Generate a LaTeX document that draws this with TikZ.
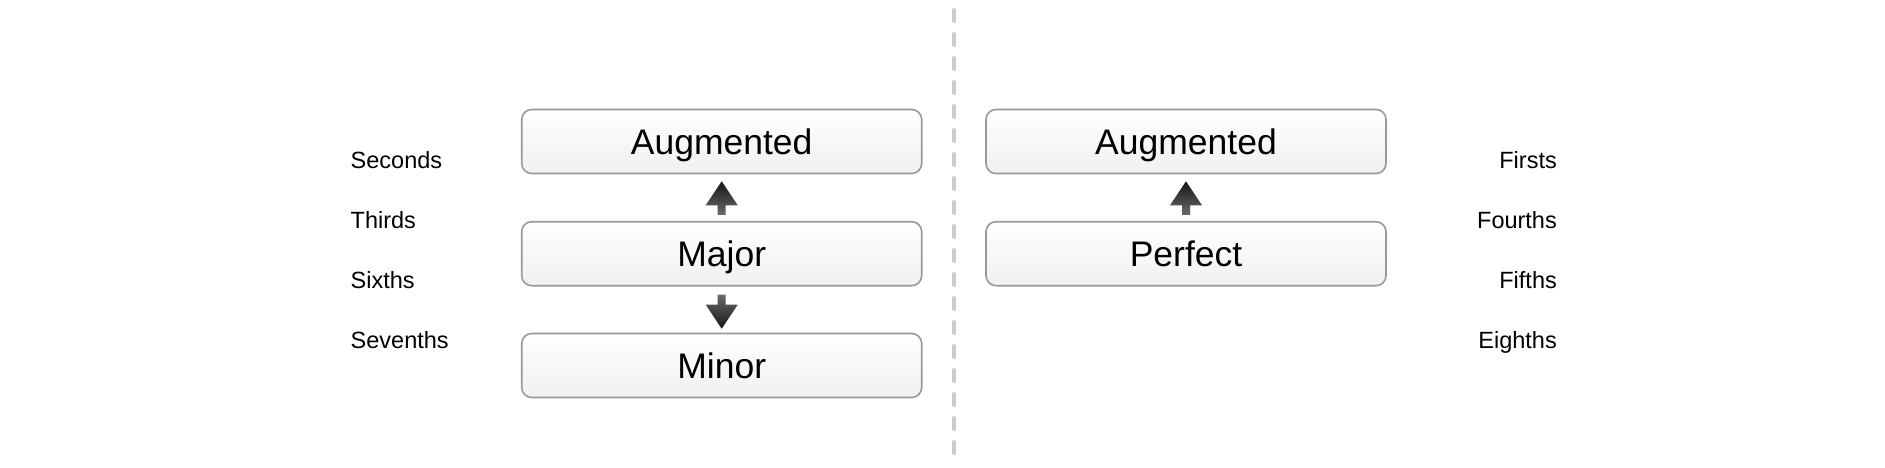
\documentclass[tikz,border=0pt]{standalone}
\usepackage{fontspec}
\setmainfont{Liberation Sans}
\usetikzlibrary{calc}
\definecolor{boxline}{HTML}{999999}
\definecolor{boxbot}{HTML}{F0F0F0}
\definecolor{dashc}{HTML}{CCCCCC}
\definecolor{arrdark}{HTML}{151515}
\definecolor{arrlight}{HTML}{6A6A6A}
\tikzset{
  qbox/.style={draw=boxline, line width=1.6pt, rounded corners=10pt,
    top color=white, bottom color=boxbot, minimum width=400pt, minimum height=64pt,
    inner sep=0pt, text height=25.6pt, text depth=0pt,
    font=\fontsize{35.5pt}{42pt}\selectfont},
  lbl/.style={font=\fontsize{23.5pt}{28pt}\selectfont, inner sep=0pt},
  uparr/.style={top color=arrdark, bottom color=arrlight, draw=none},
  downarr/.style={top color=arrlight, bottom color=arrdark, draw=none},
  sep/.style={draw=dashc, line width=4pt, line cap=round, dash pattern=on 11pt off 13pt}
}
\begin{document}
\begin{tikzpicture}[x=1pt,y=-1pt]
\useasboundingbox (0,0) rectangle (1885,468);
% boxes
\node[qbox] (laug) at (721.7,141.5) {Augmented};
\node[qbox] (lmaj) at (721.7,253.7) {Major};
\node[qbox] (lmin) at (721.7,365.5) {Minor};
\node[qbox] (raug) at (1186,141.5) {Augmented};
\node[qbox] (rper) at (1186,253.7) {Perfect};
% labels
\node[lbl, anchor=base west] (l1) at (350.5,168) {Seconds};
\node[lbl, anchor=base west] (l2) at (350.5,228) {Thirds};
\node[lbl, anchor=base west] (l3) at (350.5,288) {Sixths};
\node[lbl, anchor=base west] (l4) at (350.5,348) {Sevenths};
\node[lbl, anchor=base east] (r1) at (1557,168) {Firsts};
\node[lbl, anchor=base east] (r2) at (1557,228) {Fourths};
\node[lbl, anchor=base east] (r3) at (1557,288) {Fifths};
\node[lbl, anchor=base east] (r4) at (1557,348) {Eighths};
% separator
\coordinate (dtop) at (953.7,10);
\coordinate (dbot) at (953.7,454);
\draw[sep] (dtop) -- (dbot);
% arrows
\coordinate (t1) at ($(laug.south)+(0,7)$);
\coordinate (b1) at ($(lmaj.north)+(0,-6)$);
\path[uparr] (t1) -- ($(t1)+(16,24)$) -- ($(t1)+(4,24)$) -- ($(b1)+(4,0)$)
  -- ($(b1)+(-4,0)$) -- ($(t1)+(-4,24)$) -- ($(t1)+(-16,24)$) -- cycle;
\coordinate (t2) at ($(raug.south)+(0,7)$);
\coordinate (b2) at ($(rper.north)+(0,-6)$);
\path[uparr] (t2) -- ($(t2)+(16,24)$) -- ($(t2)+(4,24)$) -- ($(b2)+(4,0)$)
  -- ($(b2)+(-4,0)$) -- ($(t2)+(-4,24)$) -- ($(t2)+(-16,24)$) -- cycle;
\coordinate (s3) at ($(lmaj.south)+(0,8)$);
\coordinate (t3) at ($(lmin.north)+(0,-4)$);
\path[downarr] (t3) -- ($(t3)+(16,-24)$) -- ($(t3)+(4,-24)$) -- ($(s3)+(4,0)$)
  -- ($(s3)+(-4,0)$) -- ($(t3)+(-4,-24)$) -- ($(t3)+(-16,-24)$) -- cycle;
\end{tikzpicture}
\end{document}
